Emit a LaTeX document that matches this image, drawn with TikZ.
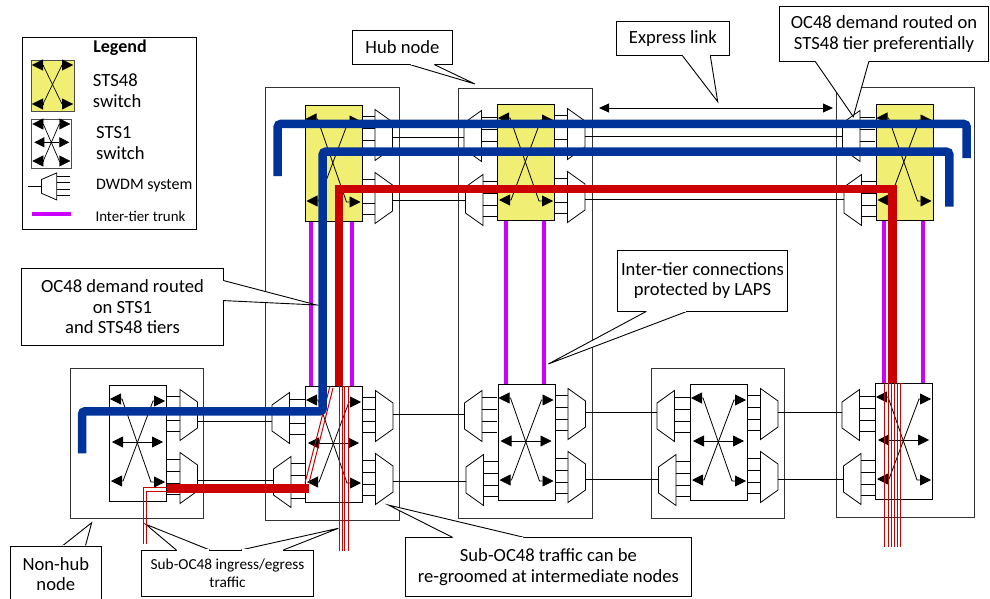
\documentclass[tikz,border=0pt]{standalone}
\usepackage{fontspec}
\setmainfont{Carlito}
\usetikzlibrary{arrows.meta,calc}
\definecolor{swyellow}{RGB}{240,238,115}
\definecolor{trunkpurple}{RGB}{204,0,255}
\definecolor{routeblue}{RGB}{0,51,153}
\definecolor{routered}{RGB}{204,0,0}
\tikzset{
	hubbox/.style={draw=black!80, line width=.8pt, minimum width=#1, anchor=north west, inner sep=0pt},
	swbox/.style={draw, line width=.8pt, fill=#1, minimum width=57pt, minimum height=116pt, anchor=north west, inner sep=0pt},
	swtip/.style={>={Triangle[length=11pt,width=11pt]}},
	tier/.style={line width=4pt, trunkpurple},
	blueroute/.style={line width=8.5pt, routeblue, rounded corners=3pt},
	redroute/.style={line width=8.5pt, routered},
	thinred/.style={line width=1pt, routered},
	callbox/.style={draw, fill=white, line width=.9pt, align=center, inner sep=0pt, font=\fontsize{18.6}{20.5}\selectfont},
	legtext/.style={anchor=west, inner sep=0pt, align=left, font=\fontsize{18.6}{21}\selectfont},
	pics/dwdm/.style={code={
		\draw[line width=.8pt, fill=white] (0,-25.5) -- (17.5,-13) -- (17.5,13) -- (0,25.5) -- cycle;
		\foreach \s in {-18.6,-6.9,5.1,16.8}
			\draw[line width=.8pt] (-15,\s) -- (0,\s);
		\coordinate (-out) at (17.5,#1);
	}},
	pics/swcross/.style={code={
		\draw[<->, swtip, line width=.8pt] (1,14) -- (13,14) -- (42,97) -- (56,97);
		\draw[<->, swtip, line width=.8pt] (56,16) -- (44,16) -- (14,96) -- (2,96);
		\ifnum#1=1 \draw[<->, swtip, line width=.8pt] (3,57) -- (54,57); \fi
	}},
	pics/legcross/.style n args={2}{code={
		\draw[line width=.7pt] (12,5) -- (#1-12,#2-7);
		\draw[line width=.7pt] (#1-12,5) -- (12,#2-7);
		\foreach \p/\q in {12/1,#1-12/#1-1}{
			\draw[-{Triangle[length=11pt,width=11pt]}] (\p,5) -- (\q,5);
			\draw[-{Triangle[length=11pt,width=11pt]}] (\p,#2-7) -- (\q,#2-7);
		}
	}},
}
\newcommand{\calltail}[3]{
	\fill[white] (#1) -- (#2) -- (#3) -- cycle;
	\draw[line width=.9pt] (#1) -- (#2) -- (#3);
	\draw[white, line width=1.4pt, shorten >=.6pt, shorten <=.6pt] (#1) -- (#3);
}
\begin{document}
\begin{tikzpicture}[x=1pt,y=-1pt]
	\clip (0,0) rectangle (990,599);

	\node[hubbox=134pt, minimum height=433pt] (hub1) at (265,87) {};
	\node[hubbox=134pt, minimum height=430pt] (hub2) at (458,88) {};
	\node[hubbox=138pt, minimum height=430pt] (hub3) at (836,87) {};
	\node[hubbox=133pt, minimum height=150pt] (site1) at (70,368) {};
	\node[hubbox=133pt, minimum height=150pt] (site2) at (651,368) {};

	\foreach \name/\x/\y/\ot/\ob in {u1/304.5/105/2/2, u2/497/104/2/2,
			n1/109.5/385/-2/2.5, l1/305/386/-2/2.5, l2/497.5/384/-2/2.5, n2/690/384/-2/2.5}{
		\pic (\name-rt) at (\x+70.5,\y+30) {dwdm=\ot};
		\pic (\name-rb) at (\x+70.5,\y+93) {dwdm=\ob};
	}
	\foreach \name/\x/\y in {u2/497/104, u3/875.5/104,
			l1/305/386, l2/497.5/384, n2/690/384, l3/875/383}{
		\pic[xscale=-1] (\name-lt) at (\x-15.5,\y+32) {dwdm=3};
		\pic[xscale=-1] (\name-lb) at (\x-14,\y+96) {dwdm=1};
	}

	\draw[line width=.8pt] (n1-rb-out) -- (n1-rb-out -| l1-lb-out);
	\draw[line width=.8pt] (l1-lt-out) -- (l1-lt-out -| n1-rt-out);
	\foreach \a/\b in {u1/u2, u2/u3, l1/l2, l2/n2, n2/l3}{
		\draw[line width=.8pt] (\a-rt-out) -- (\a-rt-out -| \b-lt-out);
		\draw[line width=.8pt] (\a-rb-out) -- (\a-rb-out -| \b-lb-out);
	}

	\foreach \name/\x/\y in {u1/304.5/105, u2/497/104, u3/875.5/104}{
		\node[swbox=swyellow] (\name) at (\x,\y) {};
		\pic (\name-x) at (\name.north west) {swcross=0};
	}
	\foreach \name/\x/\y in {n1/109/385, l1/305/386, l2/497.5/384, n2/690/384, l3/875/383}{
		\node[swbox=white] (\name) at (\x,\y) {};
		\pic (\name-x) at (\name.north west) {swcross=1};
	}

	\foreach \a/\b/\dl/\dr in {u1/l1/6/47.5, u2/l2/9/47, u3/l3/8/47.5}{
		\draw[tier] ([xshift=\dl pt]\a.south west) -- ([xshift=\dl pt]\a.south west |- \b.north);
		\draw[tier] ([xshift=\dr pt]\a.south west) -- ([xshift=\dr pt]\a.south west |- \b.north);
	}

	\coordinate (exprleft) at (599,108);
	\coordinate (exprright) at (833,108);
	\draw[<->, >={Triangle[length=10pt,width=9pt]}, line width=.8pt] (exprleft) -- (exprright);

	\node[callbox, minimum width=99.3pt, minimum height=33.6pt] (hubnote) at (402.4,47.5) {Hub node};
	\coordinate (hubtip) at (475,84);
	\calltail{[xshift=58pt]hubnote.south west}{hubtip}{[xshift=82.3pt]hubnote.south west}
	\node[callbox, minimum width=112.3pt, minimum height=33.3pt] (exprnote) at (672.9,38.4) {Express link};
	\coordinate (exprtip) at (717.7,101.7);
	\calltail{[xshift=66pt]exprnote.south west}{exprtip}{[xshift=94pt]exprnote.south west}
	\node[callbox, minimum width=209.4pt, minimum height=54.3pt] (prefnote) at (884,33.9) {OC48 demand routed on\\STS48 tier preferentially};
	\coordinate (preftip) at (853.3,116.7);
	\calltail{[xshift=36.4pt]prefnote.south west}{preftip}{[xshift=90pt]prefnote.south west}
	\node[callbox, minimum width=201.6pt, minimum height=76.3pt] (tiernote) at (122.5,306.9) {OC48 demand routed\\on STS1\\and STS48 tiers};
	\coordinate (tiertip) at (316.7,305);
	\calltail{[yshift=-12.3pt]tiernote.north east}{tiertip}{[yshift=-32.3pt]tiernote.north east}
	\node[callbox, minimum width=169.6pt, minimum height=61pt] (lapsnote) at (702.5,280.5) {Inter-tier connections\\protected by LAPS};
	\coordinate (lapstip) at (548.3,364);
	\calltail{[xshift=29pt]lapsnote.south west}{lapstip}{[xshift=69.6pt]lapsnote.south west}
	\node[callbox, minimum width=91.7pt, minimum height=56pt] (sitenote) at (55.8,574) {Non-hub\\node};
	\coordinate (sitetip) at (91.7,522.7);
	\calltail{[xshift=53.3pt]sitenote.north west}{sitetip}{[xshift=76pt]sitenote.north west}
	\node[callbox, minimum width=171.6pt, minimum height=45.7pt, font=\fontsize{15.3}{18.7}\selectfont] (addnote) at (227.5,573.2) {Sub-OC48 ingress/egress\\traffic};
	\coordinate (addtipa) at (145.7,524.3);
	\coordinate (addtipb) at (338.3,528.3);
	\calltail{[xshift=35pt]addnote.north west}{addtipa}{[xshift=68.3pt]addnote.north west}
	\calltail{[xshift=100pt]addnote.north west}{addtipb}{[xshift=142.3pt]addnote.north west}
	\node[callbox, minimum width=286.7pt, minimum height=59pt] (groomnote) at (548.4,567.2) {Sub-OC48 traffic can be\\re-groomed at intermediate nodes};
	\coordinate (groomtip) at (388.3,505);
	\calltail{[xshift=47.7pt]groomnote.north west}{groomtip}{[xshift=119pt]groomnote.north west}

	\foreach \x in {339.3,342,344.3,348}
		\draw[thinred] (\x,386) -- (\x,551);
	\foreach \x in {884.7,888,891.3,894,897.7,900.3}
		\draw[thinred] (\x,383) -- (\x,546.7);
	\draw[thinred] (305,483) -- (330,386);
	\draw[thinred] (309,483) -- (333,388);
	\draw[thinred] (143.3,544) |- (167.3,487);
	\draw[thinred] (146.7,544) |- (167.3,491.7);

	\coordinate (bonea) at (277.7,176);
	\coordinate (boneb) at (966.7,124);
	\coordinate (bonec) at (966.7,158);
	\draw[blueroute] (bonea) |- (boneb) -- (bonec);
	\coordinate (btwoa) at (82,453.3);
	\coordinate (btwob) at (322.7,411.3);
	\coordinate (btwoc) at (949.3,151.7);
	\coordinate (btwod) at (949.3,206.7);
	\draw[blueroute] (btwoa) |- (btwob) |- (btwoc) -- (btwod);
	\coordinate (redaa) at (167.3,488.3);
	\coordinate (redab) at (309,488.3);
	\draw[redroute] (redaa) -- (redab);
	\coordinate (redba) at (339,386);
	\coordinate (redbb) at (892.3,189);
	\coordinate (redbc) at (892.3,383);
	\draw[redroute] (redba) |- (redbb) -- (redbc);

	\node[draw, line width=1pt, minimum width=174.3pt, minimum height=192pt, anchor=north west, inner sep=0pt] (legend) at (21.7,36.7) {};
	\node[font=\fontsize{18}{20}\selectfont\bfseries] (legendhead) at (120,48) {Legend};
	\node[draw=black!70, line width=.8pt, fill=swyellow, minimum width=43pt, minimum height=51pt, anchor=north west, inner sep=0pt] (legyellow) at (31,60) {};
	\pic (legyellow-x) at (legyellow.north west) {legcross={43}{51}};
	\node[legtext] (legyellowtext) at (92.7,91) {STS48\\switch};
	\node[draw=black!70, line width=.8pt, fill=white, minimum width=40pt, minimum height=49pt, anchor=north west, inner sep=0pt] (legwhite) at (31.3,119) {};
	\pic (legwhite-x) at (legwhite.north west) {legcross={40}{49}};
	\draw[<->, >={Triangle[length=10pt,width=10pt]}, line width=.7pt] (34.3,142.3) -- (69.3,142.3);
	\node[legtext] (legwhitetext) at (96,143.5) {STS1\\switch};
	\pic[xscale=-.87, yscale=.53] (legmux) at (56.7,186.4) {dwdm=0};
	\coordinate (legstub) at (28.3,186.4);
	\draw[line width=.8pt] (legmux-out) -- (legstub);
	\node[legtext, font=\fontsize{16}{18}\selectfont] (legmuxtext) at (96,185.7) {DWDM system};
	\coordinate (legtiera) at (32.3,214);
	\coordinate (legtierb) at (71,214);
	\draw[tier] (legtiera) -- (legtierb);
	\node[legtext, font=\fontsize{14.9}{17}\selectfont] (legtiertext) at (95.3,216.7) {Inter-tier trunk};
\end{tikzpicture}
\end{document}
